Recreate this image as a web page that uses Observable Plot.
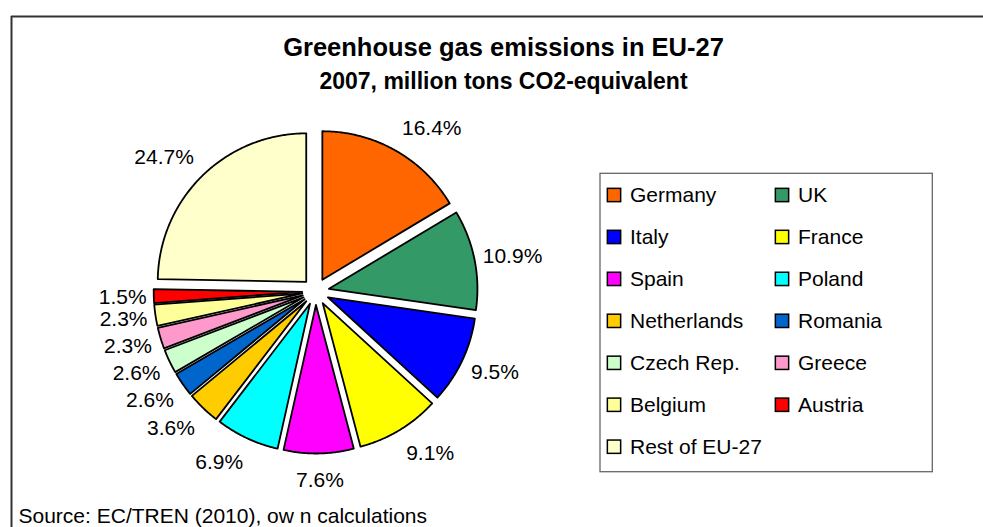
<!DOCTYPE html>
<html>
<head>
<meta charset="utf-8">
<script src="https://cdn.jsdelivr.net/npm/d3@7"></script>
<script src="https://cdn.jsdelivr.net/npm/@observablehq/plot@0.6"></script>
<style>
  html, body { margin: 0; padding: 0; background: #fff; }
  #chart svg { display: block; }
</style>
</head>
<body>
<div id="chart"></div>
<script>
// ---- data ----
const countries = ["Germany", "UK", "Italy", "France", "Spain", "Poland", "Netherlands",
  "Romania", "Czech Rep.", "Greece", "Belgium", "Austria", "Rest of EU-27"];
const shares = [16.4, 10.9, 9.5, 9.1, 7.6, 6.9, 3.6, 2.6, 2.6, 2.3, 2.3, 1.5, 24.7];
const colors = ["#FF6600", "#339966", "#0000FF", "#FFFF00", "#FF00FF", "#00FFFF", "#FFCC00",
  "#0066CC", "#CCFFCC", "#FF99CC", "#FFFF99", "#FF0000", "#FFFFCC"];
const titleText = "Greenhouse gas emissions in EU-27";
const subtitleText = "2007, million tons CO2-equivalent";
const sourceText = "Source: EC/TREN (2010), ow n calculations";

// ---- layout ----
const W = 983, H = 527;
const FONT = "'Liberation Sans', Arial, Helvetica, sans-serif";
const CX = 315.2, CY = 291, R = 148.5, EXPLODE = 13.5;
const LABEL_FS = 21;

const arcs = d3.pie().sort(null).value(d => d)(shares);

// slice polygons
const slicePts = [];
arcs.forEach((a, i) => {
  const mid = (a.startAngle + a.endAngle) / 2;
  const ox = CX + EXPLODE * Math.sin(mid), oy = CY - EXPLODE * Math.cos(mid);
  slicePts.push({name: countries[i], x: ox, y: oy});
  const n = Math.max(2, Math.ceil((a.endAngle - a.startAngle) / (Math.PI / 360)));
  for (let k = 0; k <= n; k++) {
    const t = a.startAngle + (a.endAngle - a.startAngle) * k / n;
    slicePts.push({name: countries[i], x: ox + R * Math.sin(t), y: oy - R * Math.cos(t)});
  }
});

// label positions ("outside end": box corner attached to a point beyond the slice)
const ctx = document.createElement("canvas").getContext("2d");
ctx.font = `${LABEL_FS}px ${FONT}`;
const labelData = arcs.map((a, i) => {
  const text = shares[i].toFixed(1) + "%";
  const mid = (a.startAngle + a.endAngle) / 2;
  const sx = Math.sin(mid), cy = -Math.cos(mid);
  const w = ctx.measureText(text).width, hb = 23;
  const gap = 7 + 7 * Math.abs(cy);
  const dist = R + EXPLODE + gap;
  const px = CX + sx * dist, py = CY + cy * dist;
  const fx = Math.min(1, Math.abs(sx) * 2.2), fy = Math.min(1, Math.abs(cy) * 1.3);
  return {
    text,
    x: px + Math.sign(sx) * (w / 2) * fx,
    y: py + Math.sign(cy) * (hb / 2) * fy + 0.8
  };
});

// legend layout
const LX0 = 614, LX1 = 782, LY0 = 195, LDY = 41.95, SW = 13.3;
const legendData = countries.map((c, i) => ({
  name: c,
  cx: i % 2 === 0 ? LX0 : LX1,
  cy: LY0 + Math.floor(i / 2) * LDY
}));

const chart = Plot.plot({
  width: W, height: H,
  margin: 0,
  x: {domain: [0, W], range: [0, W], axis: null},
  y: {domain: [0, H], range: [0, H], axis: null},
  color: {domain: countries, range: colors},
  style: {fontFamily: FONT, background: "#fff", color: "#000", overflow: "visible"},
  marks: [
    // chart border (top and left visible)
    Plot.ruleY([16], {x1: 11, x2: W, stroke: "#333", strokeWidth: 2}),
    Plot.ruleX([11], {y1: 16, y2: H, stroke: "#333", strokeWidth: 2}),
    // title & subtitle
    Plot.text([titleText], {x: 503, y: 55, text: d => d, fontSize: 25.5, fontWeight: "bold", lineAnchor: "bottom", textAnchor: "middle", fill: "#000"}),
    Plot.text([subtitleText], {x: 503, y: 88, text: d => d, fontSize: 23, fontWeight: "bold", lineAnchor: "bottom", textAnchor: "middle", fill: "#000"}),
    // pie slices
    Plot.line(slicePts, {x: "x", y: "y", z: "name", fill: "name", stroke: "#000", strokeWidth: 1.8, curve: "linear-closed", strokeLinejoin: "round"}),
    // percentage labels
    Plot.text(labelData, {x: "x", y: "y", text: "text", fontSize: LABEL_FS, textAnchor: "middle", lineAnchor: "middle", fill: "#000"}),
    // legend box
    Plot.rect([0], {x1: 600, x2: 932.3, y1: 173.3, y2: 471.7, fill: "none", stroke: "#666", strokeWidth: 1.3}),
    // legend swatches
    Plot.rect(legendData, {x1: d => d.cx - SW / 2, x2: d => d.cx + SW / 2, y1: d => d.cy - SW / 2, y2: d => d.cy + SW / 2, fill: "name", stroke: "#000", strokeWidth: 1.5}),
    Plot.text(legendData, {x: d => d.cx + 15.5, y: "cy", text: "name", fontSize: 21, textAnchor: "start", lineAnchor: "middle", fill: "#000"}),
    // source
    Plot.text([sourceText], {x: 18, y: 522, text: d => d, fontSize: 21, textAnchor: "start", lineAnchor: "bottom", fill: "#000"})
  ]
});
document.getElementById("chart").appendChild(chart);
</script>
</body>
</html>
